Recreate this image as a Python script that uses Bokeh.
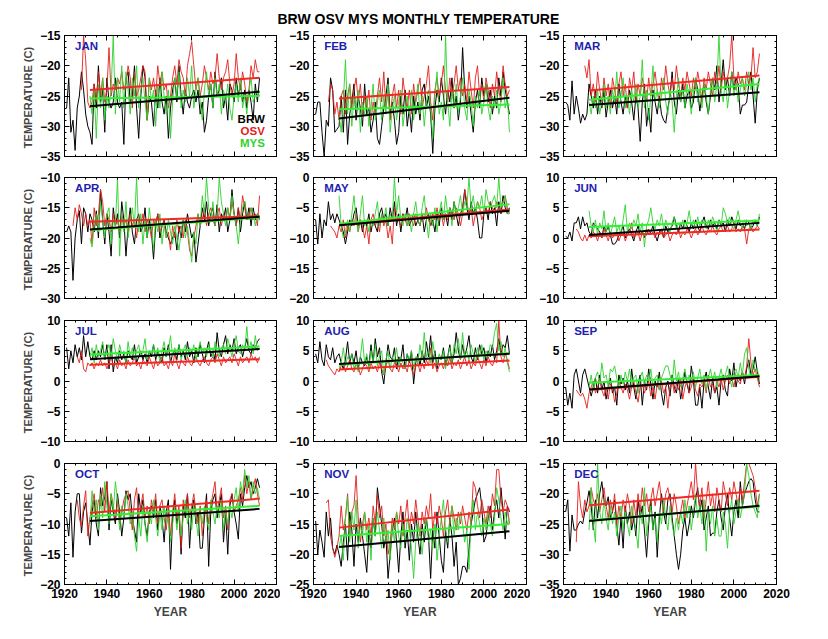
from bokeh.plotting import figure
from bokeh.models import Range1d, LinearAxis, SingleIntervalTicker, Label
from bokeh.layouts import column, row
from bokeh.embed import file_html
from bokeh.resources import INLINE

# ---------------- data ----------------
TITLE = "BRW OSV MYS MONTHLY TEMPERATURE"
END_YEAR = 2012               # every series ends in 2012
TREND_YEARS = [1932, 2012]     # fitted trend lines span this period
X_LIMITS = (1920, 2020)
MONTHS = ["JAN", "FEB", "MAR", "APR", "MAY", "JUN",
          "JUL", "AUG", "SEP", "OCT", "NOV", "DEC"]
Y_LIMITS = [(-35, -15), (-35, -15), (-35, -15), (-30, -10), (-20, 0), (-10, 10),
            (-10, 10), (-10, 10), (-10, 10), (-20, 0), (-25, -5), (-35, -15)]
SERIES = ["BRW", "OSV", "MYS"]

BRW_JAN = [-27, -22, -31, -29, -34, -27, -25, -21, -24,
           -28, -30, -31, -33, -23, -27, -20, -26, -24, -31,
           -22, -26, -27, -26, -22, -26, -27, -26, -33, -22,
           -21, -26, -25, -20, -27, -32, -25, -20, -22, -29,
           -25, -26, -30, -24, -27, -22, -26, -28, -25, -32,
           -27, -24, -22, -26, -20, -25, -28, -24, -26, -27,
           -25, -24, -26, -24, -28, -26, -31, -29, -25, -23,
           -27, -21, -25, -24, -22, -27, -25, -29, -23, -24,
           -26, -22, -25, -23, -26, -24, -27, -24, -26, -29,
           -23, -26, -22]
OSV_JAN = [-24, -15,
           -19, -26, -27, -26, -23, -26, -21, -25, -22, -26,
           -24, -17, -25, -23, -24, -22, -23, -21, -24, -23,
           -20, -22, -27, -21, -25, -24, -22, -20, -21, -29,
           -22, -24, -22, -25, -20, -23, -21, -24, -23, -27,
           -25, -22, -20, -23, -19, -21, -22, -25, -20, -18,
           -16, -20, -24, -22, -25, -23, -20, -22, -24, -21,
           -23, -22, -18, -22, -24, -22, -21, -19, -23, -25,
           -23, -18, -22, -24, -21, -23, -26, -24, -20, -22,
           -19, -21, -21]
MYS_JAN = [-25, -28, -24, -32, -23, -27, -22, -29,
           -25, -27, -24, -15, -28, -22, -26, -20, -27, -21,
           -24, -28, -22, -25, -20, -27, -24, -22, -26, -29,
           -22, -26, -24, -30, -23, -27, -21, -25, -28, -24,
           -32, -26, -22, -25, -21, -27, -24, -26, -22, -25,
           -20, -27, -24, -22, -26, -29, -24, -21, -25, -23,
           -27, -22, -25, -23, -28, -24, -26, -23, -27, -29,
           -25, -23, -26, -22, -27, -25, -28, -24, -22, -26,
           -25, -24, -25]

BRW_FEB = [-28, -26, -26, -31, -35, -29, -30, -22, -24,
           -31, -30.5, -30, -25, -31, -24, -33, -28, -26, -23,
           -29, -25, -27, -30, -23, -28, -27, -31, -29, -26,
           -32, -33, -30, -27, -25, -22, -28, -26, -29, -33,
           -31, -25, -28, -24, -30, -27, -31, -25, -28, -26,
           -29, -24, -23, -27, -25, -28, -34.5, -27, -24, -26,
           -22, -25, -28, -24, -26, -22, -27, -25, -29, -26,
           -17, -24, -27, -25, -28, -31, -26, -24, -27, -22,
           -25, -23, -26, -24, -28, -25, -27, -22, -25, -21,
           -24, -26, -28]
OSV_FEB = [-26, -23, -24,
           -28, -26, -29, -25, -24, -28, -25, -23, -27, -24,
           -22, -26, -23, -28, -25, -27, -24, -29, -26, -28,
           -25, -22, -26, -21, -27, -24, -29, -25, -23, -27,
           -24, -28, -22, -25, -27, -24, -28, -23, -26, -24,
           -22, -27, -25, -23, -20, -26, -29, -24, -22, -25,
           -23, -20, -24, -26, -22, -25, -23, -20, -24, -22,
           -25, -23, -26, -21, -24, -27, -22, -20, -25, -23,
           -26, -22, -24, -27, -23, -25, -21, -24, -26, -20,
           -23, -25, -24]
MYS_FEB = [-28, -31, -26, -19, -28, -23, -30, -25,
           -27, -24, -31, -26, -28, -25, -30, -27, -23, -29,
           -26, -24, -29, -25, -28, -23, -31, -27, -25, -29,
           -26, -24, -30, -27, -25, -28, -24, -29, -26, -23,
           -28, -25, -30, -26, -24, -27, -32, -25, -21, -28,
           -26, -29, -15, -26, -30, -24, -27, -23, -28, -25,
           -22, -27, -29, -24, -26, -30, -25, -27, -24, -28,
           -26, -23, -27, -29, -25, -27, -24, -28, -26, -22,
           -27, -25, -31]

BRW_MAR = [-26, -26.5, -29, -22.5, -28, -25, -27, -29.5, -28,
           -29, -28, -23, -25, -27, -24, -28, -25, -27, -24,
           -28.5, -26, -24, -27, -25, -28, -23, -26, -28, -25,
           -27, -24, -26, -29, -25, -27, -32.5, -26, -23, -30,
           -27, -31, -24, -26, -28, -25, -28, -29, -29.5, -27,
           -25, -21, -26, -28, -24, -26, -23, -27, -25, -24,
           -27, -26, -22, -24, -27.5, -25, -23, -26, -28, -25,
           -22, -24, -20, -26, -23, -19, -24, -22, -25, -21,
           -24, -22, -23, -28, -26.5, -26.5, -26, -23, -21, -25,
           -29.5, -24, -22]
OSV_MAR = [-20, -22, -19, -25, -23, -26, -21, -24, -26, -22,
           -25, -23, -27, -22, -24, -26, -23, -21, -25, -23,
           -27, -22, -24, -21, -26, -23, -25, -22, -24, -26,
           -22, -25, -23, -21, -24, -26, -22, -24, -20, -23,
           -25, -22, -24, -20, -23, -25, -22, -24, -21, -23,
           -25, -22, -24, -21, -23, -26, -22, -24, -21, -23,
           -25, -21, -23, -20, -24, -21, -23, -22, -20, -15,
           -22, -24, -21, -23, -22, -24, -21, -23, -22, -17,
           -22, -21, -18]
MYS_MAR = [-26, -28, -25, -27, -24, -28, -26, -23,
           -27, -25, -28, -24, -26, -21, -27, -25, -22, -27,
           -25, -28, -24, -26, -23, -27, -25, -19, -27, -24,
           -29, -25, -20, -26, -24, -27, -25, -22, -26, -28,
           -24, -26, -31, -25, -22, -26, -24, -27, -23, -25,
           -28, -24, -22, -26, -24, -27, -23, -25, -28, -24,
           -22, -26, -23, -15, -24, -26, -22, -27, -24, -21,
           -25, -23, -26, -24, -22, -25, -23, -21, -24, -22,
           -26, -23, -22]

BRW_APR = [-19, -18, -19, -27, -20, -17, -15.5, -21, -15,
           -16, -19, -16, -17, -19, -15.5, -20, -12, -17, -21,
           -16, -19, -23, -15, -18, -16, -20, -14, -17, -23,
           -18, -15, -19, -21, -17, -16, -19, -18, -15, -20,
           -17, -19, -23.5, -18, -16, -20, -18, -17, -19, -20,
           -21, -20, -19, -22, -18, -20, -17, -19, -16, -18,
           -20, -19, -24, -21, -18, -15, -17, -14, -18, -16,
           -15, -18, -14.5, -19, -16, -17, -15, -19, -17, -12,
           -16, -18, -15, -19, -16, -14, -17, -15, -18, -15,
           -17, -16, -17]
OSV_APR = [-18, -15, -17, -14.5, -16, -18,
           -16, -18, -17, -21, -15, -18, -16, -12, -14, -18,
           -16, -17, -19, -16, -18, -17, -19, -16, -18, -17,
           -19, -16, -18, -17, -20, -17, -18, -16, -19, -17,
           -18, -20, -17, -18, -16, -19, -18, -17, -20, -19,
           -22, -18, -20, -17, -19, -18, -20, -17, -19, -22,
           -23, -20, -18, -16, -18, -17, -15, -18, -16, -15,
           -17, -18, -16, -15, -18, -16, -17, -15, -17, -14,
           -16, -18, -15, -17, -13, -15, -17, -16, -15, -17,
           -16, -18, -13]
MYS_APR = [-20, -21.5, -18, -16, -19, -14, -17, -20,
           -16, -15, -21, -17, -18, -10, -23, -16, -19, -14,
           -20, -17, -15, -18, -10, -19, -16, -21, -17, -20,
           -15, -18, -22, -17, -19, -16, -21, -18, -20, -17,
           -19, -21, -18, -20, -22, -19, -17, -20, -18, -21,
           -24, -19, -21, -16, -18, -13, -16, -10, -15, -17,
           -14, -18, -16, -10, -14, -16, -18, -15, -17, -13,
           -16, -18, -21, -17, -15, -14, -16, -17, -15, -16,
           -18, -16, -17]

BRW_MAY = [-7, -11, -6, -10, -7, -8, -4, -7, -6,
           -7.5, -6, -7, -8, -9, -11, -9, -7, -8, -6,
           -5, -8, -7, -9, -7, -8, -6, -9, -7, -8,
           -9, -6, -5, -7, -6, -8, -5, -7, -4, -8,
           -6, -9, -6, -7, -5, -8, -7, -6, -8, -7,
           -8, -6, -9, -7, -6, -8, -7, -9, -6, -8,
           -5, -7, -6, -8, -5, -7, -4, -6, -8, -6,
           -5, -2, -5, -7, -4, -6, -5, -7, -10, -10,
           -6, -5, -7, -4, -6, -5, -8, -4, -6, -3,
           -5, -6, -5]
OSV_MAY = [-8, -8.5,
           -9, -10, -8, -9, -7, -10, -8, -9, -7, -8,
           -6, -9, -7, -8, -10, -8, -11, -7, -6, -8,
           -7, -9, -6, -8, -7, -10, -8, -11, -5, -6,
           -7, -8, -6, -7, -8, -6, -7, -8, -6, -7,
           -8, -6, -7, -5, -7, -8, -6, -7, -5, -7,
           -6, -8, -6, -7, -5, -6, -7, -5, -6, -8,
           -6, -2, -4, -6, -5, -8, -6, -4, -5, -7,
           -6, -5, -6, -4, -5, -6, -4, -5, -6, -4,
           -3, -5, -6]
MYS_MAY = [-3, -8, -10, -9, -7, -9, -6, -3,
           -7, -9, -6, -3, -8, -7, -9, -7, -8, -6,
           -4, -8, -6, -7, -5, -8, -6, -7, 0, -6,
           -3, -7, -8, -6, -8, -7, -9, -6, -4, -7,
           -8, -5, -3, -7, -10, -6, -8, -5, -9, -6,
           -4, -7, -3, -6, -5, -8, -4, -6, -5, -3,
           -6, -4, -5, 0, -5, -3, -6, -4, -5, -3,
           -6, -2, -4, -5, -4, -3, -5, 0, -5, -4,
           -3, -6, -6]

BRW_JUN = [0.3, 0, 1, -0.5, 2.5, 2.5, 3.5, 1.5, 3.5,
           2, 2.5, 1, 0.5, 2.5, 2, 1.5, 1, 0, 2,
           1, 2, 0.5, -1, -1, -0.5, 0.5, 1, 2, 0,
           1, 1.5, 0.5, -0.5, 1, 2, 0.5, 1, 0, 1.5,
           0.5, 1, 2, 0.5, -0.5, 1, 1.5, 0, 2, 1,
           1.5, 2, 3.5, 2, 1, 2.5, 1.5, 3, 2, 1,
           2.5, 1.5, 3, 2, 1, 2.5, 3.5, 2, 1.5, 3,
           2, 2.5, 1.5, 3, 2, 2.5, 1, 3, 2, 3.5,
           2.5, 1.5, 3, 2, 2.5, 1.5, 3, 2.5, 1.5, 2,
           3, 2, 3.5]
OSV_JUN = [1.5, 1, 0, -0.5,
           0.5, -0.5, 0.5, 0, 1, 0.5, -0.5, 1, 0, 1.5,
           0.5, -0.5, 1, 0, 0.5, 1, -0.5, 0.5, 1, -0.5,
           0.5, 1, 2.5, 0, 0.5, 1, -0.5, 1, 0, 0.5,
           1.5, 0.5, 1, 0, 1, 0.5, 1.5, 0, 0.5, 1,
           -0.5, 0.5, 1, 0.5, 1.5, 0, 1, 0.5, 1.5, 1,
           0, 1, 1.5, 0.5, 1, 2, 1, 0.5, 1.5, 1,
           2, 1, 0.5, 1.5, 2, 1, 1.5, 2, 1, 1.5,
           2.5, 1, 1.5, 1, 2, 1.5, -1, 1.5, 2, 1,
           1.5, 2, 1.5]
MYS_JUN = [4.5, 2, 1, 3, 0.5, 2.5, 1.5, 4.5,
           1, 2.5, 0.5, 2, 3.5, 1, 2, 0.5, 3, 5.5,
           1, 2.5, 1.5, 3, 2, 4, 1, 2.5, -1.5, 2,
           3, 5, 2.5, 1.5, 3, 2, 4, 1.5, 3, 2,
           1, 2.5, 3.5, 1.5, 2.5, 2, 3, 1.5, 2.5, 4.5,
           2, 3, 1.5, 3.5, 2, 3, 2.5, 1.5, 3, 2,
           3.5, 2.5, 1, 3, 2, 5, 4, 2.5, 3.5, 2,
           1.5, 3, 4.5, 2.5, 1.5, 3, 2, 2.5, 1.5, 3,
           2.5, 2, 4]

BRW_JUL = [5.5, 2, 5, 3, 6, 4, 5.5, 3.5, 7.5,
           4, 6.5, 4, 3.5, 5, 3.5, 5, 4, 6, 3.5,
           6, 2, 6, 1.5, 4, 3, 5, 3.5, 4.5, 3,
           5, 4, 3.5, 6, 3, 4, 5, 3.5, 4.5, 3,
           5, 4, 6, 3.5, 5, 4, 3, 5.5, 4, 6,
           3, 4.5, 5, 3.5, 6, 4, 5, 3.5, 6.5, 4,
           5, 3, 5.5, 4, 6, 4.5, 3, 5, 6.5, 4,
           5, 3.5, 8, 5, 4, 6, 7.5, 4.5, 6, 5,
           7, 4.5, 5.5, 6, 4, 5.5, 7, 5, 4.5, 6,
           5.5, 6.5, 7]
OSV_JUL = [4, 3, 5, 2,
           1.5, 3, 2.5, 3, 2, 3, 2.5, 3.5, 2.5, 3,
           2, 3, 4, 2.5, 3, 2, 3.5, 2.5, 3, 2,
           3.5, 2.5, 3, 4, 2.5, 3, 2, 3.5, 3, 2.5,
           4, 3, 2, 3.5, 2.5, 3, 4, 2.5, 3, 2,
           3.5, 2.5, 4.5, 3, 2, 3.5, 3, 2.5, 4, 3,
           2.5, 3.5, 4, 3, 2.5, 3.5, 4, 3, 2.5, 3.5,
           4, 3, 4.5, 3.5, 2.5, 4, 3, 3.5, 4, 3,
           4.5, 3.5, 2.5, 4, 3, 3.5, 4, 3, 4.5, 3.5,
           4, 3, 4]
MYS_JUL = [4, 5.5, 3, 6, 4, 5, 6.5, 3.5,
           5, 6, 4, 7, 5, 3.5, 6, 4.5, 5, 3,
           6.5, 4, 5.5, 3.5, 5, 6, 4, 5, 7, 3.5,
           5, 4.5, 6, 4, 5.5, 3, 5, 6.5, 4, 5,
           7.5, 4, 5.5, 4.5, 6, 3.5, 5, 6, 4, 5.5,
           4.5, 6, 3.5, 5, 6.5, 4.5, 5.5, 4, 6, 5,
           4, 6.5, 5, 4, 5.5, 6, 4.5, 7, 5.5, 4,
           6, 7.5, 5, 4.5, 6, 5, 9, 5, 6.5, 4.5,
           7.5, 5, 5.5]

BRW_AUG = [4.5, 3, 6.5, 3.5, 2.5, 6, 4, 3.5, 5.5,
           3, 4, 4.5, 3, 2, 3.5, 6.5, 3, 4.5, 3,
           5, 2, 4, 3, 2.5, 4, 2.5, 6, 3, 7,
           4, 5.5, 1.5, -0.5, 3, 6, 4, 3.5, 5.5, 2,
           4, 3.5, 6, 2, 4.5, 3, 5, -0.5, 3, 4.5,
           2.5, 5, 3, 6.5, 4, 7.5, 3, 5, 2, 4,
           3.5, 5.5, 2.5, 4, 6, 3, 4.5, 8, 5, 3.5,
           6, 4, 5.5, 7.5, 4, 3, 5.5, 3.5, 6, 4.5,
           5.5, 3, 5, 4, 6, 3.5, 5, 7, 4.5, 6,
           5.5, 7.5, 4.5]
OSV_AUG = [3.5, 2.5, 2, 1.5,
           1, 2, 1.5, 2.5, 3, 1.5, 2.5, 3.5, 2, 1.5,
           3, 2.5, 1, 2, 3, 2.5, 1.5, 3, 2, 2.5,
           1.5, 3, 2, 1, 2.5, 3.5, 2, 1.5, 3, 2.5,
           1.5, 3, 2, 2.5, 1.5, 3.5, 2, 1, 2.5, 3,
           1.5, 3, 2, 3.5, 2.5, 5.5, 2, 3, 1.5, 2.5,
           3, 2, 3.5, 2.5, 4, 2, 3, 2.5, 3.5, 2,
           3, 4, 2.5, 3.5, 2, 3, 2.5, 4, 3, 2,
           3.5, 2.5, 4, 3, 2.5, 3.5, 3, 10, 4, 3,
           4.5, 3.5, 2]
MYS_AUG = [2, 3, 5.5, 2.5, 4, 3.5, 4.5, 2,
           3, 1.5, 4, 7, 3, 4.5, 2, 5, 3, 6,
           2.5, 4, 5, 1, 3.5, 5, 2, 4, 3, 5.5,
           2.5, 4, 3, 2, 4.5, 3.5, 5, 2, 4, 3,
           6, 3.5, 8, 4, 5, 3, 6.5, 4, 2.5, 4.5,
           3.5, 5, 2, 4, 5.5, 3, 6, 4.5, 7, 3.5,
           8, 4, 5, 3.5, 6, 4.5, 3, 5.5, 4, 6,
           3.5, 5, 4, 6, 5.5, 8, 9.5, 5, 6.5, 4,
           5.5, 3, 1.5]

BRW_SEP = [-1, -4, -2, -4.5, 1, 2, 0, -2, 1,
           2, 0.5, -1, -2.5, -1, 0.5, -2, 1, -1.5, 0,
           -3, -1, 0.5, -2, -1, -4, 1, -0.5, 0.5, -1.5,
           0, -2, 2, -1, -3, -0.5, 1, -4, 0, -1.5,
           2, -0.5, -3, 0, -1, 1.5, -2, -4, -1, 0,
           -2.5, 1, -1, -2, 0.5, -3, -1, 1.5, -0.5, -2,
           2.5, 0, -4, -4, -1, -4.5, 0, 1.5, -1, -3,
           0.5, -2, -1, -4, 0, 1, -1.5, -2.5, 2, 0,
           3, -1, 1, 0, 1.5, -0.5, 2, 3.5, 1, 2,
           4, 1.5, -0.5]
OSV_SEP = [-1.5, -2, -2.5, -2,
           -3, -4.5, -2, -1, 0, -2, -1, 0.5, -1.5, -2.5,
           -1, -3, -0.5, -1, -3.5, -2, 0, -1, -2, -0.5,
           -1.5, -3, -1, 0, -2, -3.5, -1, -0.5, -2, -1,
           0, -2.5, -1, -3, -0.5, -1.5, 0, -2, -1, -4.5,
           -1, 0, -2, -0.5, -1.5, 0.5, -3, -1, 0, -2,
           -1, 0.5, -1.5, -2.5, -0.5, -1, 0, -2, 1, -1,
           -0.5, -2, 0, -1, 0.5, -1.5, 0, 1, -0.5, 0.5,
           -1, 1, 0, -0.5, 1.5, 0.5, 2.5, 7, 3, 1,
           2, 0.5, -1]
MYS_SEP = [-1, 1, -1.5, 0.5, 1.5, -0.5, 3, 0.5,
           1, -1, 2, 1.5, 2.5, 0.5, -1, 1, -0.5, 1.5,
           0, 2, -1, 0.5, 1, -2, 0.5, 1.5, -0.5, 1,
           0, 2, -1, 0.5, 1, -1.5, 0.5, 1.5, 2.5, 2.5,
           1, -0.5, 3.5, 0, 1.5, -1, 0.5, 2, -0.5, 1,
           0, 1.5, -1, 0.5, 2, -0.5, 1, -1.5, 0.5, 2,
           0, 1.5, -1, 0.5, 2, 0, 1, 2.5, 0.5, -1,
           1.5, 2, 0.5, 3, 1, 4.5, 5.5, 2, 0.5, 3.5,
           1.5, 2, 0]

BRW_OCT = [-9, -12, -6.5, -15.5, -8, -5, -5, -11.5, -8,
           -6.5, -10, -13.5, -8, -6, -10, -12, -4, -7, -5.5,
           -3, -11, -6, -8, -10, -5, -8, -12, -9, -4.5,
           -6, -5, -9, -11, -13, -5, -8, -6, -10, -12,
           -8, -7, -9, -6, -11, -7, -9, -13, -8, -6,
           -17.5, -9, -6, -10, -8, -15, -7, -9, -5, -14,
           -8, -6, -10, -8, -14, -14, -9, -5, -17, -8,
           -6, -5, -9, -7, -5, -13, -8, -15, -7, -5,
           -8, -10, -12.5, -5, -7, -4, -2, -4, -3, -5,
           -4, -2.5, -4]
OSV_OCT = [-6, -9, -10.5, -7,
           -4.5, -12, -9, -7, -5, -9, -6, -7, -4, -8,
           -3, -8, -5, -7, -9, -6, -10, -8, -6, -5,
           -4.5, -8, -11, -6, -4, -9, -7, -5, -9, -7,
           -10, -6, -8, -5, -10, -7, -6, -9, -11, -7,
           -12, -8, -5, -9, -7, -14, -6, -8, -5, -9,
           -7, -5, -8, -10, -7, -12, -8, -6, -10, -7,
           -5, -3, -8, -6, -4, -9, -7, -11, -6, -5,
           -8, -7, -6, -4, -6, -2, -5, -3, -6, -4,
           -2.5, -5, -7]
MYS_OCT = [-10, -4.5, -8, -6, -11, -5, -9, -3,
           -7, -10, -5, -8, -3, -6, -11, -7, -9, -5,
           -7, -10, -8, -12, -14.5, -9, -12, -7, -10, -13,
           -8, -10, -6, -9, -12, -8, -11, -7, -10, -9,
           -13, -10, -7, -11, -8, -12, -9, -6, -10, -8,
           -11, -7, -9, -12, -8, -10, -7, -9, -11, -6,
           -8, -10, -7, -9, -6, -11, -8, -10, -7, -9,
           -6, -4, -8, -3, -5, -1, -4, -2, -6, -3,
           -5, -4, -6]

BRW_NOV = [-14.5, -20, -16, -18, -20.5, -13, -17, -14, -19,
           -20, -18.5, -20, -22, -18, -15, -21, -13, -16, -22,
           -15, -18, -14, -17, -20, -23, -16, -19, -14, -17,
           -9, -12, -15, -19, -17, -24, -20, -16, -14, -18,
           -23, -17, -13, -19, -16, -21, -15, -18, -13, -17,
           -20, -15, -18, -14, -17, -24, -16, -19, -13, -17,
           -21, -23, -16, -19, -14, -17, -22, -18, -25, -24,
           -22, -22, -23, -19, -15, -13, -11, -10, -9, -12,
           -18, -17, -14, -12, -16, -13, -11, -14, -9, -13,
           -17.5, -12, -13]
OSV_NOV = [-11.5, -11, -17, -19,
           -20.5, -19, -17, -12, -16, -14, -10, -17, -13, -12,
           -7, -14, -18, -15, -13, -16, -14, -17, -12, -15,
           -10, -14, -12, -17, -15, -20, -18, -14, -16, -13,
           -15, -12, -17, -14, -11, -16, -13, -15, -11, -14,
           -17, -13, -15, -12, -14, -10, -16, -13, -15, -12,
           -14, -17, -13, -11, -15, -12, -14, -16, -13, -15,
           -12, -14, -16, -13, -15, -8, -9, -12, -14, -11,
           -13, -15, -12, -14, -10, -12, -6, -6, -11, -13,
           -11, -12, -15]
MYS_NOV = [-19, -17, -21, -14, -10.5, -18, -13, -16,
           -11, -19, -15, -17, -13, -18, -15, -21, -14, -17,
           -13, -16, -19, -14, -18, -16, -21, -15, -18, -13,
           -17, -19, -15, -18, -14, -16, -19, -24, -18, -15,
           -17, -20, -16, -14, -18, -16, -19, -15, -21, -17,
           -14, -11, -16, -18, -15, -12, -17, -14, -16, -13,
           -15, -18, -16, -22.5, -14, -11, -16, -13, -15, -17,
           -14, -16, -13, -15, -17, -14, -9, -11, -14, -16,
           -13, -15, -14]

BRW_DEC = [-23, -21, -29.5, -23.5, -26, -26, -25, -24.5, -25,
           -23, -21.5, -19.5, -22, -26, -21, -24, -20, -18, -21,
           -22, -20.5, -24, -23, -21, -25, -28.5, -24, -29, -22,
           -25, -23, -26, -24, -27, -21, -24, -22, -26, -30.5,
           -25, -21, -26, -23, -30.5, -24, -20, -23, -25, -21,
           -20, -24, -27, -30, -32.5, -30, -26, -24, -27, -25,
           -22, -24, -21, -19, -23, -21, -26, -24, -22, -27,
           -26.5, -26.5, -23, -21, -24, -26, -22, -20, -24, -27,
           -23, -21, -24, -18, -22, -20, -19, -18, -17.5, -18,
           -21, -23, -23]
OSV_DEC = [-28, -18, -22, -24,
           -21, -23, -22, -19, -21, -22, -20, -23, -21, -19,
           -22, -24, -21, -23, -20, -25, -22, -24, -21, -23,
           -20, -22, -25, -21, -24, -20, -23, -19, -22, -20,
           -23, -21, -19, -22, -20, -18, -21, -23, -20, -19,
           -21, -23, -20, -22, -25, -23, -21, -24, -22, -20,
           -18, -21, -15, -20, -22, -19, -24, -21, -18, -22,
           -20, -23, -19, -21, -23, -18, -20, -22, -19, -21,
           -18, -20, -22, -19, -21, -18, -15, -15, -16, -17,
           -19, -22, -20]
MYS_DEC = [-26, -19, -25, -28, -15, -23, -25, -21,
           -24, -26, -22, -25, -23, -27, -24, -22, -26, -23,
           -25, -27, -22, -24, -26, -29, -23, -25, -19, -27,
           -24, -22, -26, -24, -28, -23, -25, -21, -24, -26,
           -22, -25, -27, -24, -26, -23, -25, -21, -24, -22,
           -26, -23, -20, -24, -22, -25, -21, -29.5, -23, -25,
           -22, -27, -24, -27, -27, -23, -25, -29, -23, -21,
           -25, -23, -21, -24, -22, -20, -15, -17, -20, -22,
           -23, -24, -20]

# trend line values at TREND_YEARS
TREND_BRW = [(-26.7, -24.3), (-28.7, -25.3), (-26.5, -24.4), (-18.6, -16.5),
             (-7.9, -5.5), (0.5, 2.5), (3.6, 5.3), (2.8, 4.5),
             (-1.4, 0.8), (-9.5, -7.5), (-18.8, -16.2), (-24.5, -22.0)]
TREND_OSV = [(-24.0, -22.0), (-25.4, -23.5), (-24.1, -21.6), (-17.3, -16.4),
             (-7.8, -5.3), (0.3, 1.4), (2.7, 3.6), (1.9, 3.4),
             (-1.5, 0.7), (-8.2, -5.8), (-15.6, -12.6), (-21.9, -19.5)]
TREND_MYS = [(-25.4, -25.0), (-27.2, -26.4), (-25.6, -23.0), (-18.7, -16.6),
             (-7.7, -4.4), (1.8, 2.9), (4.4, 5.7), (2.7, 4.6),
             (-0.3, 1.0), (-8.7, -7.0), (-17.0, -15.0), (-24.4, -22.1)]

BRW = [BRW_JAN, BRW_FEB, BRW_MAR, BRW_APR, BRW_MAY, BRW_JUN,
       BRW_JUL, BRW_AUG, BRW_SEP, BRW_OCT, BRW_NOV, BRW_DEC]
OSV = [OSV_JAN, OSV_FEB, OSV_MAR, OSV_APR, OSV_MAY, OSV_JUN,
       OSV_JUL, OSV_AUG, OSV_SEP, OSV_OCT, OSV_NOV, OSV_DEC]
MYS = [MYS_JAN, MYS_FEB, MYS_MAR, MYS_APR, MYS_MAY, MYS_JUN,
       MYS_JUL, MYS_AUG, MYS_SEP, MYS_OCT, MYS_NOV, MYS_DEC]

# ---------------- styling ----------------
FONT = "Liberation Sans"
C_BRW, C_OSV, C_MYS = "#000000", "#e3201c", "#2fd22f"
T_OSV, T_MYS = "#ee2a22", "#33ee33"
LABEL_BLUE = "#1e1eb0"
TOTAL_W = 828
TITLE_H = 27
COL_BORDERS = [(64, 4), (33, 4), (33, 52)]
COL_FRAME_W = [212, 213, 213]
ROW_BORDERS = [(8, 10), (11, 10), (12, 10), (12, 55)]
FRAME_H = 121


def years_for(vals):
    return list(range(END_YEAR - len(vals) + 1, END_YEAR + 1))


def add_axis(p, side, interval, minors, show):
    ax = LinearAxis(ticker=SingleIntervalTicker(interval=interval, num_minor_ticks=minors))
    ax.major_tick_in = 5
    ax.major_tick_out = 0
    ax.minor_tick_in = 2
    ax.minor_tick_out = 0
    ax.axis_line_color = "black"
    ax.major_tick_line_color = "black"
    ax.minor_tick_line_color = "black"
    if show:
        ax.major_label_text_font = FONT
        ax.major_label_text_font_size = "12px"
        ax.major_label_text_font_style = "bold"
        ax.major_label_text_color = "black"
        ax.major_label_standoff = 4
    else:
        ax.major_label_text_font_size = "0px"
        ax.major_label_text_color = None
        ax.major_label_standoff = 0
    p.add_layout(ax, side)
    return ax


# title strip across the full width (no plot title of its own)
title_fig = figure(width=TOTAL_W, height=TITLE_H, title=None,
                   x_range=Range1d(0, TOTAL_W), y_range=Range1d(0, TITLE_H),
                   x_axis_location=None, y_axis_location=None,
                   min_border=0, output_backend="svg", toolbar_location=None)
title_fig.grid.grid_line_color = None
title_fig.outline_line_color = None
title_fig.add_layout(Label(x=418, y=TITLE_H - 18.5, text=TITLE, text_font=FONT,
                           text_font_size="14px", text_font_style="bold",
                           text_color="black", text_align="center",
                           text_baseline="middle"))

figs = []
for i, month in enumerate(MONTHS):
    r, c = divmod(i, 3)
    lb, rb = COL_BORDERS[c]
    tb, bb = ROW_BORDERS[r]
    ymin, ymax = Y_LIMITS[i]
    span = ymax - ymin
    p = figure(frame_width=COL_FRAME_W[c], frame_height=FRAME_H, title=None,
               x_range=Range1d(*X_LIMITS), y_range=Range1d(ymin, ymax),
               x_axis_location=None, y_axis_location=None,
               min_border_left=lb, min_border_right=rb,
               min_border_top=tb, min_border_bottom=bb,
               output_backend="svg", toolbar_location=None)
    p.grid.grid_line_color = None
    p.outline_line_color = "black"
    p.background_fill_color = "white"
    p.border_fill_color = "white"

    bottom = add_axis(p, "below", 20, 4, r == 3)
    add_axis(p, "above", 20, 4, False)
    left = add_axis(p, "left", 5, 5, True)
    add_axis(p, "right", 5, 5, False)
    if r == 3:
        bottom.axis_label = "YEAR"
        bottom.axis_label_text_font = FONT
        bottom.axis_label_text_font_size = "12px"
        bottom.axis_label_text_font_style = "bold"
        bottom.axis_label_standoff = 4
    if c == 0:
        left.axis_label = "TEMPERATURE  (C)"
        left.axis_label_text_font = FONT
        left.axis_label_text_font_size = "11px"
        left.axis_label_text_font_style = "bold"
        left.axis_label_standoff = 3

    p.line(years_for(BRW[i]), BRW[i], line_color=C_BRW, line_width=1)
    p.line(years_for(OSV[i]), OSV[i], line_color=C_OSV, line_width=1, line_alpha=0.9)
    p.line(years_for(MYS[i]), MYS[i], line_color=C_MYS, line_width=1, line_alpha=0.9)

    p.line(TREND_YEARS, list(TREND_OSV[i]), line_color=T_OSV, line_width=2)
    p.line(TREND_YEARS, list(TREND_MYS[i]), line_color=T_MYS, line_width=2)
    p.line(TREND_YEARS, list(TREND_BRW[i]), line_color="black", line_width=2)

    p.add_layout(Label(x=X_LIMITS[0] + 5, y=ymax - 0.04 * span, text=month,
                       text_font=FONT, text_font_size="11.5px", text_font_style="bold",
                       text_color=LABEL_BLUE, text_baseline="top"))
    if i == 0:
        for k, (name, col) in enumerate(zip(SERIES, [C_BRW, C_OSV, C_MYS])):
            p.add_layout(Label(x=X_LIMITS[1] - 5.5, y=ymax - (0.69 + 0.1 * k) * span,
                               text=name, text_font=FONT, text_font_size="11.5px",
                               text_font_style="bold", text_color=col,
                               text_align="right", text_baseline="middle"))
    figs.append(p)

grid_rows = [row(*figs[k:k + 3], spacing=0) for k in range(0, 12, 3)]
layout = column(title_fig, *grid_rows, spacing=0)
open("out.html", "w").write(file_html(layout, INLINE))
